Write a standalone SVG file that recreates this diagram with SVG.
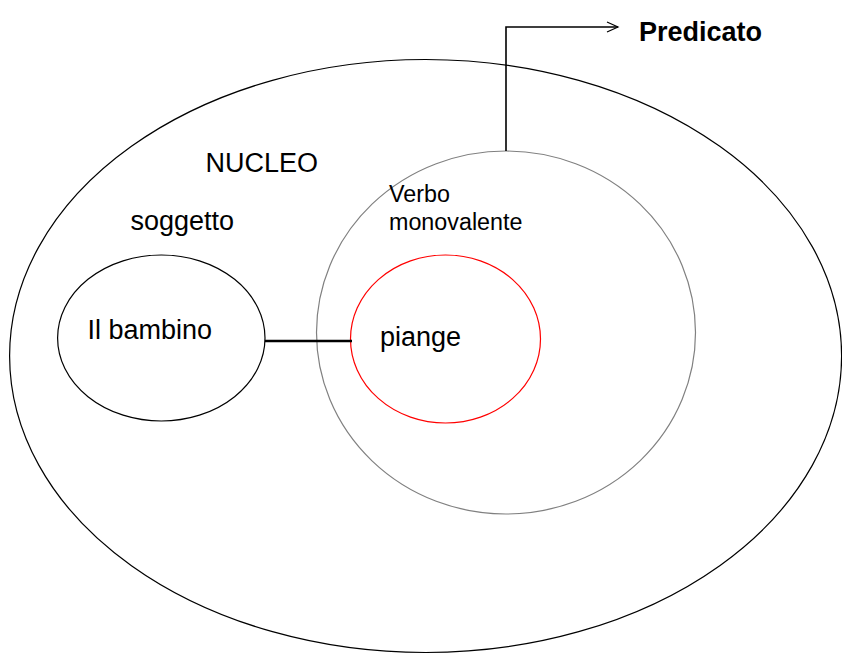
<svg xmlns="http://www.w3.org/2000/svg" width="842" height="664" viewBox="0 0 842 664">
<defs>
<style>
text{font-family:"Liberation Sans",Arial,sans-serif;fill:#000}
.big{font-size:27px}
.sm{font-size:23.3px}
.bold{font-weight:bold}
.blk{fill:none;stroke:#000;stroke-width:1.2}
</style>
<marker id="arr" markerWidth="14" markerHeight="12" refX="12" refY="6" orient="auto" markerUnits="userSpaceOnUse">
<path d="M1,1 L12,6 L1,11" fill="none" stroke="#000" stroke-width="1.2"/>
</marker>
</defs>
<rect width="842" height="664" fill="#fff"/>
<g id="nucleo">
<ellipse cx="425.6" cy="356" rx="416" ry="296.5" class="blk"/>
<text class="big" x="205.5" y="172">NUCLEO</text>
</g>
<g id="verbo">
<ellipse cx="506" cy="332.5" rx="189.5" ry="181.5" fill="none" stroke="#808080" stroke-width="1.2"/>
<text class="sm" x="389" y="202">Verbo</text>
<text class="sm" x="389" y="230">monovalente</text>
</g>
<g id="piange">
<ellipse cx="445.5" cy="339" rx="95" ry="84" fill="none" stroke="#ff0000" stroke-width="1.2"/>
<text class="big" x="380" y="346">piange</text>
</g>
<g id="soggetto">
<ellipse cx="161.3" cy="338" rx="103.7" ry="83" class="blk"/>
<text class="big" x="130.5" y="230">soggetto</text>
<text class="big" x="87.5" y="339">Il bambino</text>
</g>
<g id="predicato">
<text class="big bold" x="639" y="41">Predicato</text>
</g>
<g id="connectors">
<line x1="265" y1="341" x2="352" y2="341" stroke="#000" stroke-width="2.6"/>
<polyline points="506,151 506,27 618,27" fill="none" stroke="#000" stroke-width="1.6" marker-end="url(#arr)"/>
</g>
</svg>
